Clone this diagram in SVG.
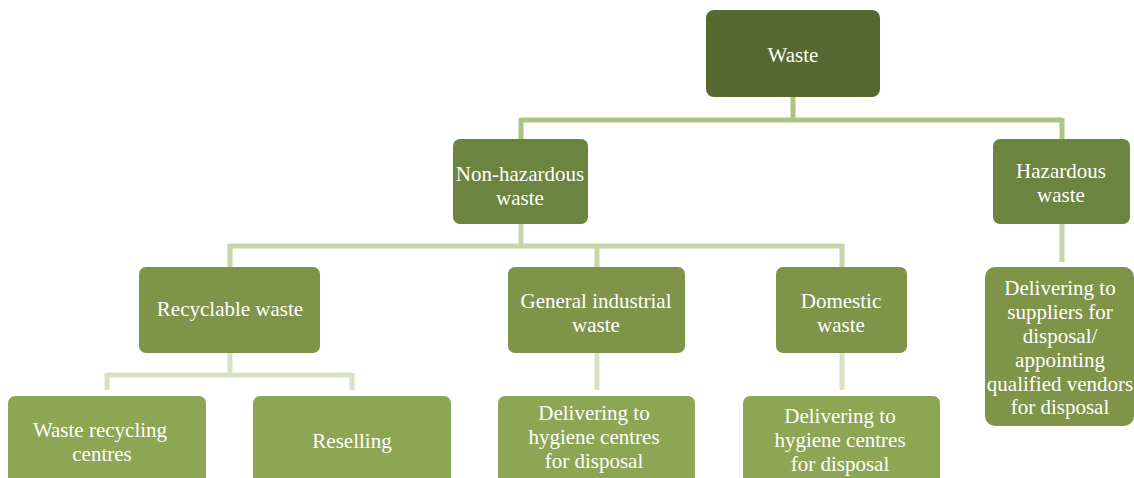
<svg xmlns="http://www.w3.org/2000/svg" width="1134" height="478" viewBox="0 0 1134 478">
<style>
text{font-family:"Liberation Serif","Times New Roman",serif;font-size:21px;fill:#ffffff;text-anchor:middle}
.l0{fill:#566930}
.l1{fill:#6b8440}
.l2{fill:#7f9449}
.l3{fill:#8ca653}
.c1{stroke:#adc584;stroke-width:5;fill:none}
.c2{stroke:#c6d6a8;stroke-width:5;fill:none}
.c3{stroke:#d7e2c4;stroke-width:5;fill:none}
</style>
<rect width="1134" height="478" fill="#ffffff"/>
<g id="connectors">
<path class="c1" d="M793 97V120M521 120H1062M521 118V139M1062 118V139"/>
<path class="c2" d="M521 224V246M230 246H842M230 244V267M597 244V267M842 244V267M1062 224V262"/>
<path class="c3" d="M230 353V375M107 375H352M107 373V390M352 373V390M597 353V390M842 353V390"/>
</g>
<g id="waste"><rect class="l0" x="706" y="10" width="174" height="87" rx="8"/><text x="793" y="62">Waste</text></g>
<g id="nonhaz"><rect class="l1" x="453" y="139" width="135" height="85" rx="7"/><text x="520" y="181">Non-hazardous</text><text x="520" y="205">waste</text></g>
<g id="haz"><rect class="l1" x="993" y="139" width="137" height="85" rx="7"/><text x="1061" y="178">Hazardous</text><text x="1061" y="202">waste</text></g>
<g id="recyclable"><rect class="l2" x="139" y="267" width="181" height="86" rx="7"/><text x="230" y="316">Recyclable waste</text></g>
<g id="general"><rect class="l2" x="508" y="267" width="177" height="86" rx="7"/><text x="596" y="308">General industrial</text><text x="596" y="332">waste</text></g>
<g id="domestic"><rect class="l2" x="776" y="267" width="131" height="86" rx="7"/><text x="841" y="308">Domestic</text><text x="841" y="332">waste</text></g>
<g id="hazchild"><rect class="l2" x="985" y="267" width="149" height="159" rx="10"/><text x="1060" y="295">Delivering to</text><text x="1060" y="319">suppliers for</text><text x="1060" y="343">disposal/</text><text x="1060" y="367">appointing</text><text x="1060" y="391">qualified vendors</text><text x="1060" y="414">for disposal</text></g>
<g id="recycling"><rect class="l3" x="8" y="396" width="198" height="100" rx="7"/><text x="100" y="437">Waste recycling</text><text x="102" y="461">centres</text></g>
<g id="reselling"><rect class="l3" x="253" y="396" width="198" height="100" rx="7"/><text x="352" y="448">Reselling</text></g>
<g id="genchild"><rect class="l3" x="498" y="396" width="197" height="100" rx="7"/><text x="594" y="420">Delivering to</text><text x="594" y="444">hygiene centres</text><text x="594" y="468">for disposal</text></g>
<g id="domchild"><rect class="l3" x="743" y="396" width="197" height="100" rx="7"/><text x="840" y="423">Delivering to</text><text x="840" y="447">hygiene centres</text><text x="840" y="471">for disposal</text></g>
</svg>
